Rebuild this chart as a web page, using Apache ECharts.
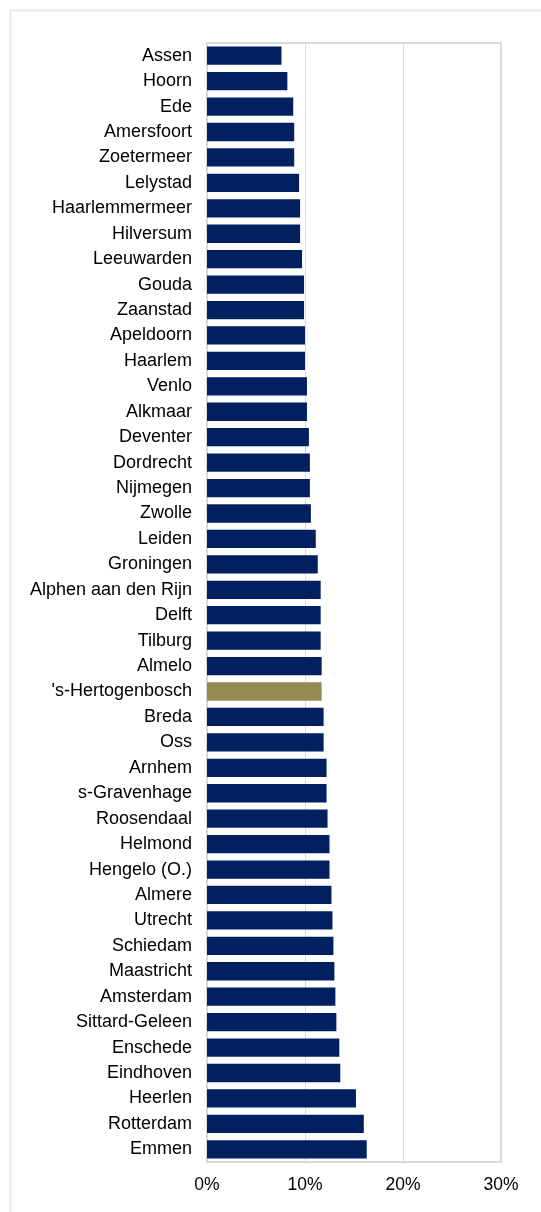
<!DOCTYPE html>
<html>
<head>
<meta charset="utf-8">
<script src="https://cdn.jsdelivr.net/npm/echarts@6/dist/echarts.min.js"></script>
<style>
html,body{margin:0;padding:0;background:#fff;}
#chart{width:541px;height:1212px;}
</style>
</head>
<body>
<div id="chart"></div>
<script>
const categories = ["Assen","Hoorn","Ede","Amersfoort","Zoetermeer","Lelystad","Haarlemmermeer","Hilversum","Leeuwarden","Gouda","Zaanstad","Apeldoorn","Haarlem","Venlo","Alkmaar","Deventer","Dordrecht","Nijmegen","Zwolle","Leiden","Groningen","Alphen aan den Rijn","Delft","Tilburg","Almelo","'s-Hertogenbosch","Breda","Oss","Arnhem","s-Gravenhage","Roosendaal","Helmond","Hengelo (O.)","Almere","Utrecht","Schiedam","Maastricht","Amsterdam","Sittard-Geleen","Enschede","Eindhoven","Heerlen","Rotterdam","Emmen"];
const values = [7.6,8.2,8.8,8.9,8.9,9.4,9.5,9.5,9.7,9.9,9.9,10.0,10.0,10.2,10.2,10.4,10.5,10.5,10.6,11.1,11.3,11.6,11.6,11.6,11.7,11.7,11.9,11.9,12.2,12.2,12.3,12.5,12.5,12.7,12.8,12.9,13.0,13.1,13.2,13.5,13.6,15.2,16.0,16.3];
const highlight = "'s-Hertogenbosch";
const xTicks = [0, 10, 20, 30];

const chart = echarts.init(document.getElementById('chart'), null, {renderer:'canvas'});
const font = '"Liberation Sans", Arial, sans-serif';
chart.setOption({
  animation:false,
  graphic:[{type:'rect', shape:{x:10.5,y:10.5,width:700,height:1400}, style:{fill:'none', stroke:'#e3e3e3', lineWidth:1.5}, silent:true, z:-10}],
  grid:{left:207, top:43, right:40, bottom:50, show:true, borderColor:'#d9d9d9', borderWidth:2, containLabel:false},
  xAxis:{type:'value', min:xTicks[0], max:xTicks[xTicks.length-1], interval:10,
    axisLine:{show:false}, axisTick:{show:false},
    splitLine:{show:true, lineStyle:{color:'#d9d9d9', width:1}},
    axisLabel:{formatter:'{value}%', color:'#000', fontSize:17.5, fontFamily:font, margin:14}},
  yAxis:{type:'category', data:categories, inverse:true,
    axisLine:{show:true, lineStyle:{color:'#d9d9d9', width:2}}, axisTick:{show:false},
    axisLabel:{color:'#000', fontSize:18, fontFamily:font, margin:15}},
  series:[{type:'bar', barCategoryGap:'28%',
    data: values.map((v,i)=>({value:v, itemStyle:{color: categories[i]===highlight ? '#948A54' : '#002060'}}))}]
});
</script>
</body>
</html>
